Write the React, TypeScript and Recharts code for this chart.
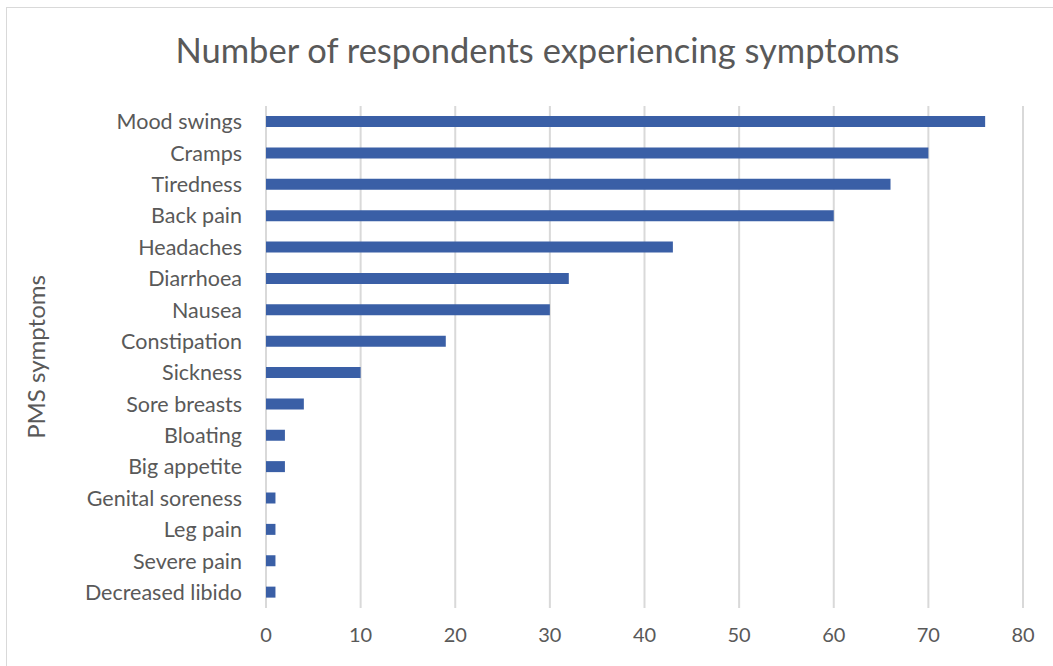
import React from "react";
import {
  BarChart,
  Bar,
  XAxis,
  YAxis,
  CartesianGrid,
  Label,
} from "recharts";

const symptoms = [
  "Mood swings",
  "Cramps",
  "Tiredness",
  "Back pain",
  "Headaches",
  "Diarrhoea",
  "Nausea",
  "Constipation",
  "Sickness",
  "Sore breasts",
  "Bloating",
  "Big appetite",
  "Genital soreness",
  "Leg pain",
  "Severe pain",
  "Decreased libido",
];

const respondents = [76, 70, 66, 60, 43, 32, 30, 19, 10, 4, 2, 2, 1, 1, 1, 1];

const xTicks = [0, 10, 20, 30, 40, 50, 60, 70, 80];

const FONT = "Lato, 'Open Sans', sans-serif";
const TEXT = "#595959";
const BAR = "#3A5FA6";
const GRID = "#D9D9D9";

const data = symptoms.map((name, i) => ({ name, value: respondents[i] }));

const App: React.FC = () => {
  return (
    <div
      style={{
        position: "absolute",
        left: 0,
        top: 0,
        width: 1053,
        height: 666,
        overflow: "hidden",
        background: "#fff",
        fontFamily: FONT,
      }}
    >
      <div
        style={{
          position: "absolute",
          left: 6,
          top: 7,
          width: 1060,
          height: 700,
          border: `1.5px solid ${GRID}`,
        }}
      />
      <div
        style={{
          position: "absolute",
          top: 29,
          left: 0,
          width: 1075,
          textAlign: "center",
          fontSize: 34.5,
          color: TEXT,
          whiteSpace: "nowrap",
        }}
      >
        Number of respondents experiencing symptoms
      </div>
      <div style={{ position: "absolute", left: 0, top: 0 }}>
        <BarChart
          width={1053}
          height={666}
          data={data}
          layout="vertical"
          margin={{ top: 106, right: 30, bottom: 28, left: 0 }}
        >
          <CartesianGrid
            horizontal={false}
            stroke={GRID}
            strokeWidth={2}
          />
          <XAxis
            type="number"
            domain={[0, 80]}
            ticks={xTicks}
            axisLine={false}
            tickLine={false}
            tickSize={0}
            tickMargin={20}
            height={30}
            tick={{ fill: TEXT, fontSize: 20, fontFamily: FONT }}
          />
          <YAxis
            type="category"
            dataKey="name"
            width={266}
            axisLine={false}
            tickLine={false}
            tickSize={0}
            tickMargin={24}
            interval={0}
            tick={{ fill: TEXT, fontSize: 21.5, fontFamily: FONT }}
          >
            <Label
              content={() => (
                <text
                  x={45}
                  y={357}
                  transform="rotate(-90 45 357)"
                  textAnchor="middle"
                  fill={TEXT}
                  fontSize={24}
                  fontFamily={FONT}
                >
                  PMS symptoms
                </text>
              )}
            />
          </YAxis>
          <Bar
            dataKey="value"
            fill={BAR}
            barSize={11}
            isAnimationActive={false}
          />
        </BarChart>
      </div>
    </div>
  );
};

export default App;
